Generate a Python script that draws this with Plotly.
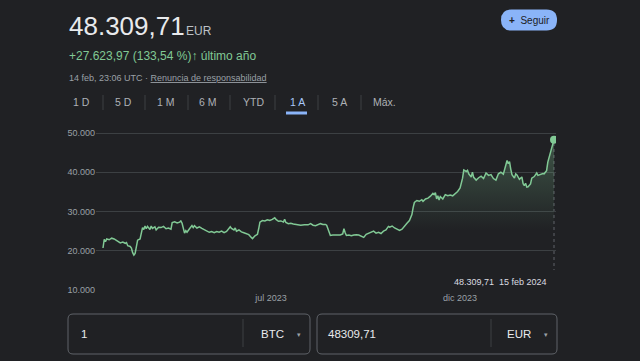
import pandas as pd
import plotly.graph_objects as go

# ---------------- data ----------------
start_date = "2023-02-15"
day_offsets = [0, 1, 2, 3, 5, 7, 9, 11, 13, 14, 16, 18, 19, 20, 22, 23, 24, 25, 26, 27,
               28, 30, 31, 32, 33, 34, 35, 36, 38, 39, 40, 42, 43, 45, 47, 49, 51, 53, 55, 56,
               58, 60, 62, 63, 64, 65, 66, 67, 68, 70, 72, 73, 74, 76, 78, 80, 82, 84, 86, 88,
               90, 92, 94, 96, 98, 100, 101, 103, 104, 106, 107, 108, 110, 112, 114, 116, 118, 120, 121, 123,
               125, 126, 127, 129, 131, 133, 135, 137, 139, 140, 142, 144, 146, 147, 148, 150, 152, 154, 157, 160,
               163, 166, 168, 170, 172, 174, 176, 178, 180, 181, 182, 183, 184, 186, 188, 190, 192, 194, 195, 196,
               197, 199, 201, 203, 205, 207, 209, 211, 213, 215, 217, 219, 221, 223, 225, 227, 229, 231, 232, 234,
               236, 238, 240, 242, 244, 246, 248, 250, 251, 252, 254, 256, 258, 259, 261, 263, 265, 267, 268, 269,
               270, 271, 272, 273, 275, 277, 279, 281, 283, 285, 287, 289, 291, 292, 294, 295, 296, 298, 299, 300,
               302, 304, 306, 308, 310, 312, 314, 316, 318, 320, 322, 324, 326, 327, 328, 329, 330, 331, 333, 334,
               335, 337, 339, 340, 341, 342, 343, 344, 346, 347, 349, 351, 352, 354, 356, 357, 359, 360, 361, 362,
               363, 364, 365]
prices = [20700, 22900, 22300, 23000, 22800, 23200, 23000, 22600, 22300, 22000, 22200, 21900, 22100, 21300, 21100, 20700, 19500, 18900, 19300, 21500,
          22700, 23000, 24500, 25900, 25400, 26300, 25600, 26200, 25400, 26300, 25700, 26100, 25300, 26000, 25900, 26200, 25600, 25800, 25500, 27200,
          27400, 27100, 27300, 27600, 27000, 25800, 24500, 25100, 24700, 25600, 26400, 25900, 26400, 25800, 26100, 25700, 25400, 25000, 24700, 24900,
          24600, 24900, 24700, 25000, 24600, 24900, 25400, 26100, 25700, 25300, 25800, 25000, 25300, 24800, 24600, 24400, 24100, 23400, 23100, 23800,
          24200, 25600, 27300, 27700, 27600, 27900, 27700, 28000, 28400, 28000, 27500, 27600, 27300, 28000, 27200, 26900, 27000, 26800, 26700, 26500,
          26600, 26600, 26900, 26500, 26400, 26700, 26900, 26700, 26700, 26500, 25600, 24400, 23900, 24000, 24000, 24100, 24000, 24300, 25600, 24600,
          23900, 24000, 23800, 24000, 24100, 24000, 23700, 23400, 24200, 24500, 24800, 25000, 24500, 24700, 24400, 25000, 25300, 26200, 26000, 26300,
          25800, 25600, 25200, 25500, 26400, 27000, 27700, 29200, 31000, 32300, 32800, 32600, 33000, 32600, 33200, 33400, 33900, 34600, 34300, 34800,
          33200, 34000, 32900, 33800, 33200, 34300, 34000, 34200, 34000, 34600, 35100, 36000, 38500, 40600, 40200, 40500, 39600, 38800, 40000, 38700,
          38000, 38600, 39000, 38400, 39800, 39200, 39400, 38400, 38000, 39600, 40000, 39500, 41500, 43000, 42200, 42700, 40800, 39400, 38500, 39600,
          39300, 38200, 38800, 37100, 36600, 37200, 36200, 36300, 37000, 38500, 38900, 39800, 39200, 39500, 39700, 39600, 40400, 42600, 43900, 44800,
          46000, 47200, 48309.71]
y_tickvals = [10000, 20000, 30000, 40000, 50000]
y_ticktext = ["10.000", "20.000", "30.000", "40.000", "50.000"]
x_tickvals = ["2023-07-01", "2023-12-01"]
x_ticktext = ["jul 2023", "dic 2023"]
tabs = ["1 D", "5 D", "1 M", "6 M", "YTD", "1 A", "5 A", "Máx."]
selected_tab = "1 A"
price_text = "48.309,71"
currency = "EUR"
change_text = "+27.623,97 (133,54 %)"
period_text = "último año"
timestamp_text = "14 feb, 23:06 UTC · "
disclaimer_text = "Renuncia de responsabilidad"
tooltip_date = "15 feb 2024"
tooltip_value = "48.309,71"
conv_amount = "1"
conv_from = "BTC"
conv_result = "48309,71"
conv_to = "EUR"

# ---------------- styling ----------------
W, H = 640, 361
BG = "#202124"
GREEN = "#81c995"
GRID = "#3c4043"
GRAY = "#9aa0a6"
LIGHT = "#e8eaed"
BLUE = "#8ab4f8"
FONT = "Arial, Liberation Sans, sans-serif"

dates = pd.Timestamp(start_date) + pd.to_timedelta(day_offsets, unit="D")


def px(x):
    return x / W


def py(y):
    return 1 - y / H


def rrect(x0, y0, x1, y1, r):
    rx, ry = r / W, r / H
    X0, X1 = px(x0), px(x1)
    Y0, Y1 = py(y0), py(y1)  # Y0 top (higher), Y1 bottom
    return (f"M{X0 + rx},{Y0} L{X1 - rx},{Y0} Q{X1},{Y0} {X1},{Y0 - ry} "
            f"L{X1},{Y1 + ry} Q{X1},{Y1} {X1 - rx},{Y1} L{X0 + rx},{Y1} "
            f"Q{X0},{Y1} {X0},{Y1 + ry} L{X0},{Y0 - ry} Q{X0},{Y0} {X0 + rx},{Y0} Z")


fig = go.Figure()
fig.add_trace(go.Scatter(
    x=dates, y=prices, mode="lines",
    line=dict(color=GREEN, width=1.5),
    fill="tozeroy",
    fillgradient=dict(type="vertical",
                      colorscale=[[0, "rgba(129,201,149,0)"], [1, "rgba(129,201,149,0.32)"]],
                      start=25000, stop=49000),
    hoverinfo="skip", showlegend=False))
fig.add_trace(go.Scatter(
    x=[dates[-1]], y=[prices[-1]], mode="markers",
    marker=dict(color=GREEN, size=8), hoverinfo="skip", showlegend=False))

# axes geometry (pixels)
x_left, x_right = 96, 556
y_top, y_bot = 125, 291
first_px, last_px = 103, 554
span_days = (dates[-1] - dates[0]).days
ppd = (last_px - first_px) / span_days
x_range = [dates[0] - pd.Timedelta(days=(first_px - x_left) / ppd),
           dates[-1] + pd.Timedelta(days=(x_right - last_px) / ppd)]
px_10k, px_50k = 290, 133
ppu = (px_10k - px_50k) / 40000
y_range = [10000 - (y_bot - px_10k) / ppu, 10000 + (px_10k - y_top) / ppu]

fig.update_layout(
    width=W, height=H, autosize=False,
    margin=dict(l=0, r=0, t=0, b=0),
    paper_bgcolor=BG, plot_bgcolor=BG,
    font=dict(family=FONT, color=GRAY, size=9),
    xaxis=dict(domain=[px(x_left), px(x_right)], range=x_range, showgrid=False,
               zeroline=False, showline=False, tickvals=x_tickvals, ticktext=x_ticktext,
               tickfont=dict(size=9, color=GRAY), ticks="", fixedrange=True, automargin=False),
    yaxis=dict(domain=[py(y_bot), py(y_top)], range=y_range, showgrid=True,
               gridcolor=GRID, gridwidth=1, zeroline=False, showline=False,
               tickvals=y_tickvals, ticktext=y_ticktext,
               tickfont=dict(size=9, color=GRAY), ticks="", fixedrange=True, automargin=False),
    hovermode=False,
    showlegend=False,
)

shapes = []
ann = []

# header
ann.append(dict(text=price_text, x=px(67), y=py(26), xanchor="left", yanchor="middle",
                font=dict(size=26, color=LIGHT)))
ann.append(dict(text=currency, x=px(184), y=py(31), xanchor="left", yanchor="middle",
                font=dict(size=12, color="#bdc1c6")))
ann.append(dict(text=f"{change_text}<b>↑</b> {period_text}",
                x=px(67), y=py(56.5), xanchor="left", yanchor="middle",
                font=dict(size=12, color=GREEN)))
ann.append(dict(text=f"{timestamp_text}<u>{disclaimer_text}</u>", x=px(67), y=py(78),
                xanchor="left", yanchor="middle", font=dict(size=9, color=GRAY)))

# follow button
shapes.append(dict(type="path", xref="paper", yref="paper", path=rrect(501, 9.5, 557, 30.5, 10.5),
                   fillcolor=BLUE, line=dict(width=0), layer="above"))
ann.append(dict(text="<b>+</b>  Seguir", x=px(529), y=py(20), xanchor="center", yanchor="middle",
                font=dict(size=10, color=BG)))

# tabs
tab_centers = [81, 123, 166, 208, 253, 297, 339, 384]
seps = [103, 145, 188, 230, 275, 318, 361]
for t, cx in zip(tabs, tab_centers):
    ann.append(dict(text=t, x=px(cx), y=py(102), xanchor="center", yanchor="middle",
                    font=dict(size=10.5, color="#a8c7fa" if t == selected_tab else "#aeb1b6")))
for sx in seps:
    shapes.append(dict(type="line", xref="paper", yref="paper", x0=px(sx), x1=px(sx),
                       y0=py(95), y1=py(110), line=dict(color=GRID, width=1)))
shapes.append(dict(type="line", xref="paper", yref="paper", x0=px(286), x1=px(307),
                   y0=py(113), y1=py(113), line=dict(color=BLUE, width=3)))

# tooltip
shapes.append(dict(type="rect", xref="paper", yref="paper", x0=px(447), x1=px(560),
                   y0=py(293), y1=py(270), fillcolor=BG, line=dict(width=0), layer="above"))
shapes.append(dict(type="line", xref="x", yref="y", x0=dates[-1], x1=dates[-1],
                   y0=10000 + (px_10k - 272) / ppu, y1=prices[-1],
                   line=dict(color="#5f6368", width=1, dash="dot"), layer="below"))
ann.append(dict(text=f"{tooltip_value}&nbsp;&nbsp;{tooltip_date}", x=px(549), y=py(282),
                xanchor="right", yanchor="middle", font=dict(size=9, color="#dadce0")))

# converter boxes
for (bx0, bx1, dv, val, cur, valx, curx, arrx) in [
        (68, 310, 243, conv_amount, conv_from, 79, 286, 299),
        (317, 557, 491, conv_result, conv_to, 326, 533, 546)]:
    shapes.append(dict(type="path", xref="paper", yref="paper", path=rrect(bx0, 314, bx1, 354, 5),
                       fillcolor=BG, line=dict(color="#5f6368", width=1), layer="above"))
    shapes.append(dict(type="line", xref="paper", yref="paper", x0=px(dv), x1=px(dv),
                       y0=py(319), y1=py(347), line=dict(color=GRID, width=1)))
    ann.append(dict(text=val, x=px(valx), y=py(333.5), xanchor="left", yanchor="middle",
                    font=dict(size=11.5, color=LIGHT)))
    ann.append(dict(text=cur, x=px(curx), y=py(333.5), xanchor="right", yanchor="middle",
                    font=dict(size=11.5, color=LIGHT)))
    ann.append(dict(text="▾", x=px(arrx), y=py(334), xanchor="center", yanchor="middle",
                    font=dict(size=7, color=GRAY)))

for a in ann:
    a.update(xref="paper", yref="paper", showarrow=False)
fig.update_layout(shapes=shapes, annotations=ann)

fig.write_html("out.html", config={"displayModeBar": False},
               post_script="document.body.style.margin='0';document.body.style.background='" + BG + "';")
